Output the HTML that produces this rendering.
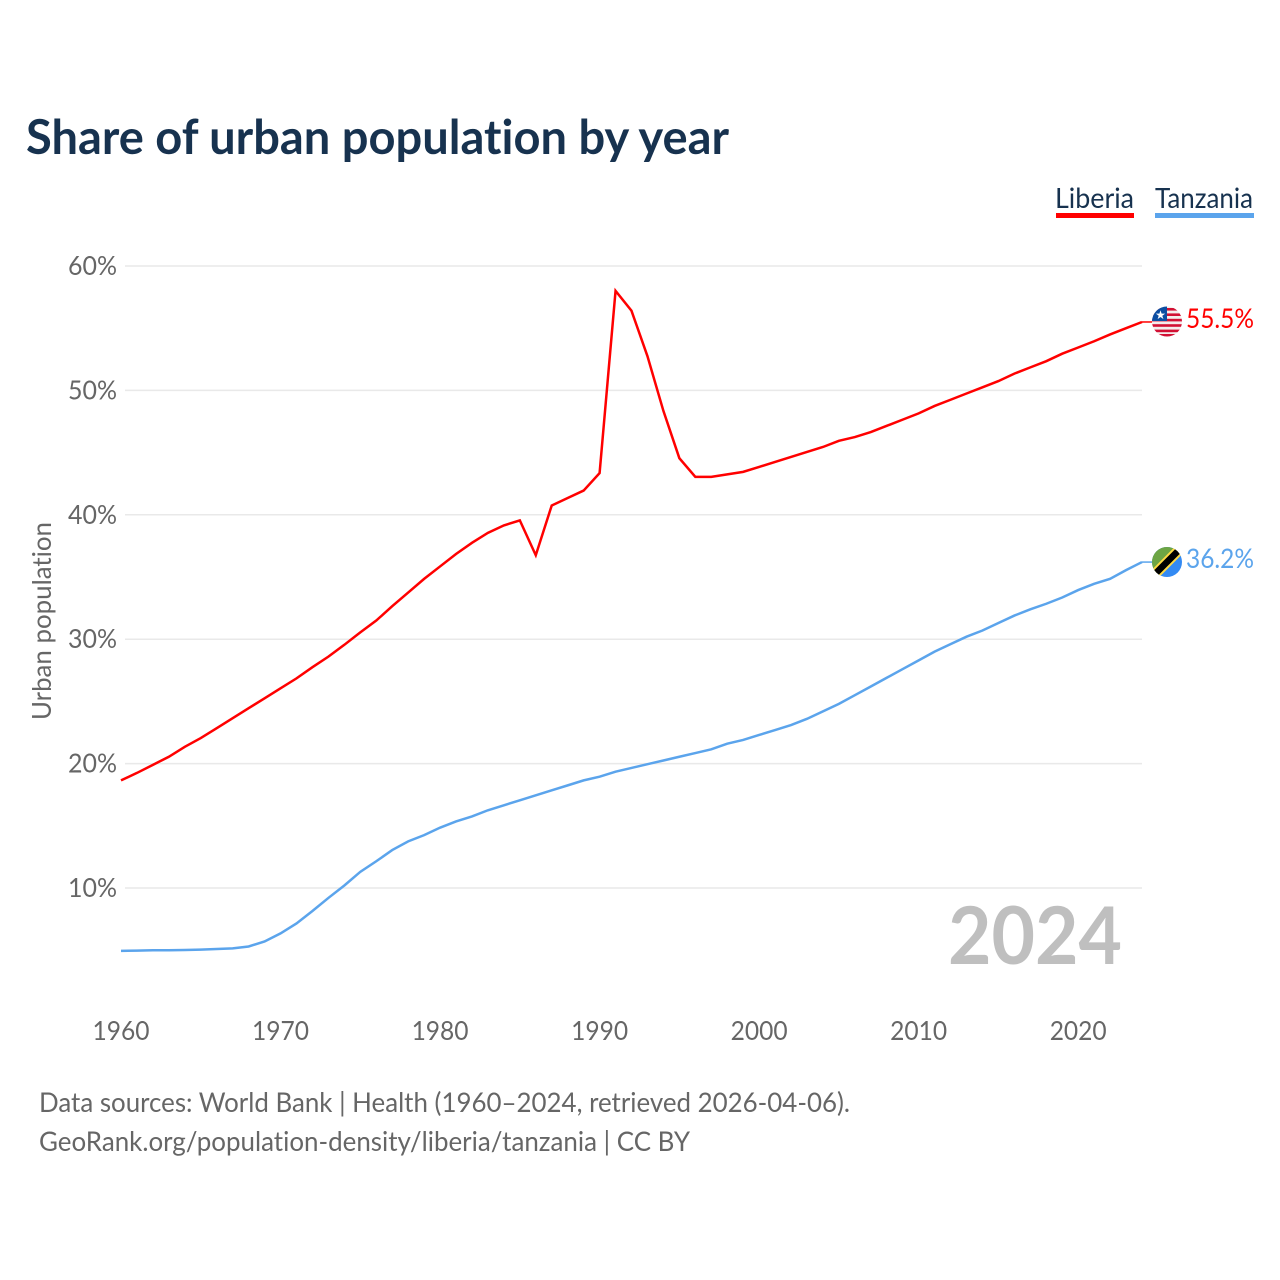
<!DOCTYPE html>
<html lang="en">
<head>
<meta charset="utf-8">
<title>Share of urban population by year</title>
<style>
html,body{margin:0;padding:0;background:#fff;width:1280px;height:1280px;overflow:hidden}
svg{display:block}
text{font-family:"Lato","Carlito","Liberation Sans",sans-serif;font-variant-ligatures:none}
</style>
</head>
<body>
<svg id="chart" xmlns="http://www.w3.org/2000/svg" width="1280" height="1280" viewBox="0 0 1280 1280">
  <defs>
    <clipPath id="flag-clip-lr"><circle cx="1167" cy="321.5" r="15"/></clipPath>
    <clipPath id="flag-clip-tz"><circle cx="1167" cy="562" r="15"/></clipPath>
  </defs>
  <text x="26" y="154" font-size="48" font-weight="700" fill="#17324f" textLength="703" lengthAdjust="spacingAndGlyphs">Share of urban population by year</text>

  <text x="1055" y="208" font-size="28" fill="#17324f" textLength="79" lengthAdjust="spacingAndGlyphs">Liberia</text>
  <rect x="1056" y="213" width="78" height="5" fill="#ff0000"/>
  <text x="1155" y="208" font-size="28" fill="#17324f" textLength="98" lengthAdjust="spacingAndGlyphs">Tanzania</text>
  <rect x="1155" y="213" width="99" height="5" fill="#5ba4ec"/>

  <g id="grid"></g>
  <g id="yticks"></g>
  <g id="xticks"></g>

  <text transform="translate(51,621) rotate(-90)" text-anchor="middle" font-size="26" fill="#666666" textLength="198" lengthAdjust="spacingAndGlyphs">Urban population</text>

  <text x="948" y="964" font-size="80" font-weight="700" fill="#bfbfbf" textLength="174" lengthAdjust="spacingAndGlyphs">2024</text>

  <g id="series"></g>

  <g clip-path="url(#flag-clip-lr)">
    <rect x="1152" y="306" width="30" height="31" fill="#f4ecec"/>
    <rect x="1152" y="308" width="30" height="2.6" fill="#d21034"/>
    <rect x="1152" y="313.4" width="30" height="2.6" fill="#d21034"/>
    <rect x="1152" y="318.8" width="30" height="2.6" fill="#d21034"/>
    <rect x="1152" y="324.2" width="30" height="2.6" fill="#d21034"/>
    <rect x="1152" y="329.6" width="30" height="2.6" fill="#d21034"/>
    <rect x="1152" y="334" width="30" height="3" fill="#d21034"/>
    <rect x="1152" y="306" width="15" height="15" fill="#0b4ea2"/>
    <text x="1160.5" y="319" font-size="12" text-anchor="middle" fill="#ffffff">★</text>
  </g>
  <text x="1186" y="328" font-size="27" fill="#ff0000" textLength="68" lengthAdjust="spacingAndGlyphs">55.5%</text>

  <g clip-path="url(#flag-clip-tz)">
    <rect x="1152" y="547" width="30" height="30" fill="#338af3"/>
    <polygon points="1152,547 1182,547 1152,577" fill="#6da544"/>
    <line x1="1150" y1="579" x2="1184" y2="545" stroke="#ffda44" stroke-width="10.5"/>
    <line x1="1150" y1="579" x2="1184" y2="545" stroke="#000000" stroke-width="6.5"/>
  </g>
  <text x="1186" y="568" font-size="27" fill="#5ba4ec" textLength="68" lengthAdjust="spacingAndGlyphs">36.2%</text>

  <text x="39" y="1112" font-size="27.5" fill="#666666" textLength="811" lengthAdjust="spacingAndGlyphs">Data sources: World Bank | Health (1960–2024, retrieved 2026-04-06).</text>
  <text x="39" y="1151" font-size="27.5" fill="#666666" textLength="651" lengthAdjust="spacingAndGlyphs">GeoRank.org/population-density/liberia/tanzania | CC BY</text>
</svg>
<script>
const startYear = 1960;
const xTickYears = [1960, 1970, 1980, 1990, 2000, 2010, 2020];
const yTickValues = [10, 20, 30, 40, 50, 60];
const liberiaValues = [18.65,19.25,19.9,20.55,21.35,22.05,22.85,23.65,24.45,25.25,26.05,26.85,27.75,28.6,29.55,30.55,31.5,32.65,33.75,34.85,35.85,36.85,37.75,38.55,39.15,39.55,36.75,40.75,41.35,41.95,43.35,58.0,56.4,52.75,48.35,44.55,43.05,43.05,43.25,43.45,43.85,44.25,44.65,45.05,45.45,45.95,46.25,46.65,47.15,47.65,48.15,48.75,49.25,49.75,50.25,50.75,51.35,51.85,52.35,52.95,53.45,53.95,54.5,55.0,55.5];
const tanzaniaValues = [4.95,4.97,5.0,5.0,5.02,5.05,5.1,5.15,5.3,5.7,6.35,7.15,8.15,9.2,10.2,11.3,12.15,13.05,13.75,14.25,14.85,15.35,15.75,16.25,16.65,17.05,17.45,17.85,18.25,18.65,18.95,19.35,19.65,19.95,20.25,20.55,20.85,21.15,21.6,21.9,22.3,22.7,23.1,23.6,24.2,24.8,25.5,26.2,26.9,27.6,28.3,29.0,29.6,30.2,30.7,31.3,31.9,32.4,32.85,33.35,33.95,34.45,34.85,35.55,36.2];

const SVG_NS = 'http://www.w3.org/2000/svg';
function xScale(year) { return 121 + (year - 1960) * (1142 - 121) / 64; }
function yScale(value) { return 888 - (value - 10) * (888 - 266) / 50; }

const grid = document.getElementById('grid');
const yticks = document.getElementById('yticks');
const xticks = document.getElementById('xticks');
const series = document.getElementById('series');

yTickValues.forEach(function (v) {
  const line = document.createElementNS(SVG_NS, 'line');
  
  
  line.setAttribute('x1', 125);
  line.setAttribute('x2', 1142);
  line.setAttribute('y1', yScale(v));
  line.setAttribute('y2', yScale(v));
  line.setAttribute('stroke', '#e9e9e9');
  line.setAttribute('stroke-width', 1.5);
  grid.appendChild(line);

  const label = document.createElementNS(SVG_NS, 'text');
  
  
  label.setAttribute('x', 117);
  label.setAttribute('y', yScale(v) + 9);
  label.setAttribute('text-anchor', 'end');
  label.setAttribute('font-size', 26);
  label.setAttribute('fill', '#666666');
  label.setAttribute('textLength', 49);
  label.setAttribute('lengthAdjust', 'spacingAndGlyphs');
  label.textContent = v + '%';
  yticks.appendChild(label);
});

xTickYears.forEach(function (y) {
  const label = document.createElementNS(SVG_NS, 'text');
  
  
  label.setAttribute('x', xScale(y));
  label.setAttribute('y', 1040);
  label.setAttribute('text-anchor', 'middle');
  label.setAttribute('font-size', 26);
  label.setAttribute('fill', '#666666');
  label.setAttribute('textLength', 57);
  label.setAttribute('lengthAdjust', 'spacingAndGlyphs');
  label.textContent = String(y);
  xticks.appendChild(label);
});

function linePoints(values) {
  return values.map(function (v, i) {
    return xScale(startYear + i).toFixed(2) + ',' + yScale(v).toFixed(2);
  }).join(' ');
}

const tanzaniaLine = document.createElementNS(SVG_NS, 'polyline');


tanzaniaLine.setAttribute('points', linePoints(tanzaniaValues));
tanzaniaLine.setAttribute('fill', 'none');
tanzaniaLine.setAttribute('stroke', '#5ba4ec');
tanzaniaLine.setAttribute('stroke-width', 2.5);
series.appendChild(tanzaniaLine);

const liberiaLine = document.createElementNS(SVG_NS, 'polyline');


liberiaLine.setAttribute('points', linePoints(liberiaValues));
liberiaLine.setAttribute('fill', 'none');
liberiaLine.setAttribute('stroke', '#ff0000');
liberiaLine.setAttribute('stroke-width', 2.5);
series.appendChild(liberiaLine);

const lastLiberia = liberiaValues[liberiaValues.length - 1];
const lastTanzania = tanzaniaValues[tanzaniaValues.length - 1];

const liberiaStub = document.createElementNS(SVG_NS, 'line');


liberiaStub.setAttribute('x1', xScale(2024));
liberiaStub.setAttribute('x2', 1152);
liberiaStub.setAttribute('y1', yScale(lastLiberia));
liberiaStub.setAttribute('y2', yScale(lastLiberia));
liberiaStub.setAttribute('stroke', '#ff0000');
liberiaStub.setAttribute('stroke-width', 1.5);
series.appendChild(liberiaStub);

const tanzaniaStub = document.createElementNS(SVG_NS, 'line');


tanzaniaStub.setAttribute('x1', xScale(2024));
tanzaniaStub.setAttribute('x2', 1152);
tanzaniaStub.setAttribute('y1', yScale(lastTanzania));
tanzaniaStub.setAttribute('y2', yScale(lastTanzania));
tanzaniaStub.setAttribute('stroke', '#5ba4ec');
tanzaniaStub.setAttribute('stroke-width', 1.5);
series.appendChild(tanzaniaStub);
</script>
</body>
</html>
